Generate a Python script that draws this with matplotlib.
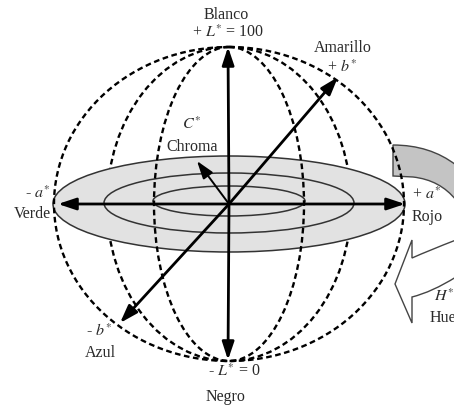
import matplotlib.pyplot as plt
from matplotlib.patches import Ellipse, PathPatch
from matplotlib.path import Path

plt.rcParams['font.family'] = ['Liberation Serif', 'DejaVu Serif']
plt.rcParams['mathtext.fontset'] = 'stix'

# geometria del esquema (pixeles de la imagen)
centro = (229, 204)
esfera_r = (175, 157)            # semiejes de la esfera
meridianos_detras = [122]        # semiejes x de meridianos ocultos por el disco
meridianos_delante = [75]        # semiejes x de meridianos visibles
disco_rx = [176, 125, 76]        # anillos de croma
disco_ry = [48, 30, 15]
disco_cy = [204, 203, 201]

# extremos de los ejes
eje_L = [(228, 47), (228, 360)]
eje_a = [(58, 204), (405, 204)]
eje_b = [(338, 77), (120, 323)]
croma = (197, 161)

# textos
etiquetas = [
    ('Blanco', 226, 15, 'center'),
    (r'+ $L^{*}$ = 100', 228, 33, 'center'),
    ('Amarillo', 343, 48, 'center'),
    (r'+ $b^{*}$', 342, 68, 'center'),
    (r'$C^{*}$', 192, 125, 'center'),
    ('Chroma', 192, 147, 'center'),
    (r'- $a^{*}$', 38, 194, 'center'),
    ('Verde', 32, 214, 'center'),
    (r'+ $a^{*}$', 412, 195, 'left'),
    ('Rojo', 412, 217, 'left'),
    (r'- $b^{*}$', 99, 332, 'center'),
    ('Azul', 100, 353, 'center'),
    (r'- $L^{*}$ = 0', 234, 372, 'center'),
    ('Negro', 226, 397, 'center'),
    (r'$H^{*}$', 434, 297, 'left'),
    ('Hue', 430, 318, 'left'),
]

fig = plt.figure(figsize=(4.54, 4.08), dpi=100)
ax = fig.add_axes([0, 0, 1, 1])
ax.set_xlim(0, 454)
ax.set_ylim(408, 0)
ax.axis('off')

guion = (0, (2.4, 1.5))
lw_guion = 1.7

# flecha de tono (parte trasera gris)
gris = Path([(393, 145), (430, 145), (456, 165), (456, 200), (440, 180), (413, 177),
             (393, 176), (393, 145)],
            [Path.MOVETO, Path.CURVE3, Path.CURVE3, Path.LINETO, Path.CURVE3, Path.CURVE3,
             Path.LINETO, Path.CLOSEPOLY])
ax.add_patch(PathPatch(gris, facecolor='#c4c4c4', edgecolor='#444444', lw=1, zorder=1))

# meridianos traseros
for rx in meridianos_detras:
    ax.add_patch(Ellipse(centro, 2 * rx, 2 * esfera_r[1], fill=False, ec='k',
                         ls=guion, lw=lw_guion, zorder=1))

# disco de croma
for i, (rx, ry, cy) in enumerate(zip(disco_rx, disco_ry, disco_cy)):
    ax.add_patch(Ellipse((centro[0], cy), 2 * rx, 2 * ry,
                         facecolor='#e2e2e2' if i == 0 else 'none',
                         edgecolor='#333333', lw=1.1, zorder=2))

# esfera y meridianos delanteros
ax.add_patch(Ellipse(centro, 2 * esfera_r[0], 2 * esfera_r[1], fill=False, ec='k',
                     ls=guion, lw=lw_guion, zorder=3))
for rx in meridianos_delante:
    ax.add_patch(Ellipse(centro, 2 * rx, 2 * esfera_r[1], fill=False, ec='k',
                         ls=guion, lw=lw_guion, zorder=3))

# flecha de tono (parte delantera blanca)
blanca = Path([(412, 240), (395, 284), (412, 323), (412, 297), (432, 292), (456, 277),
               (456, 240), (430, 250), (412, 258), (412, 240)],
              [Path.MOVETO, Path.LINETO, Path.LINETO, Path.LINETO, Path.CURVE3, Path.CURVE3,
               Path.LINETO, Path.CURVE3, Path.CURVE3, Path.CLOSEPOLY])
ax.add_patch(PathPatch(blanca, facecolor='white', edgecolor='#444444', lw=1, zorder=4))

# ejes
estilo = dict(arrowstyle='-|>,head_length=0.9,head_width=0.3', color='k', lw=2,
              shrinkA=0, shrinkB=0, mutation_scale=12)
for punta in eje_L + eje_a + eje_b:
    ax.annotate('', xy=punta, xytext=centro, arrowprops=estilo, zorder=5)
ax.annotate('', xy=croma, xytext=centro,
            arrowprops=dict(estilo, lw=1.4), zorder=5)

for texto, x, y, ha in etiquetas:
    ax.text(x, y, texto, ha=ha, va='center', fontsize=11.5, color='#2a2a2a', zorder=6)

fig.savefig('out.png', dpi=100)
